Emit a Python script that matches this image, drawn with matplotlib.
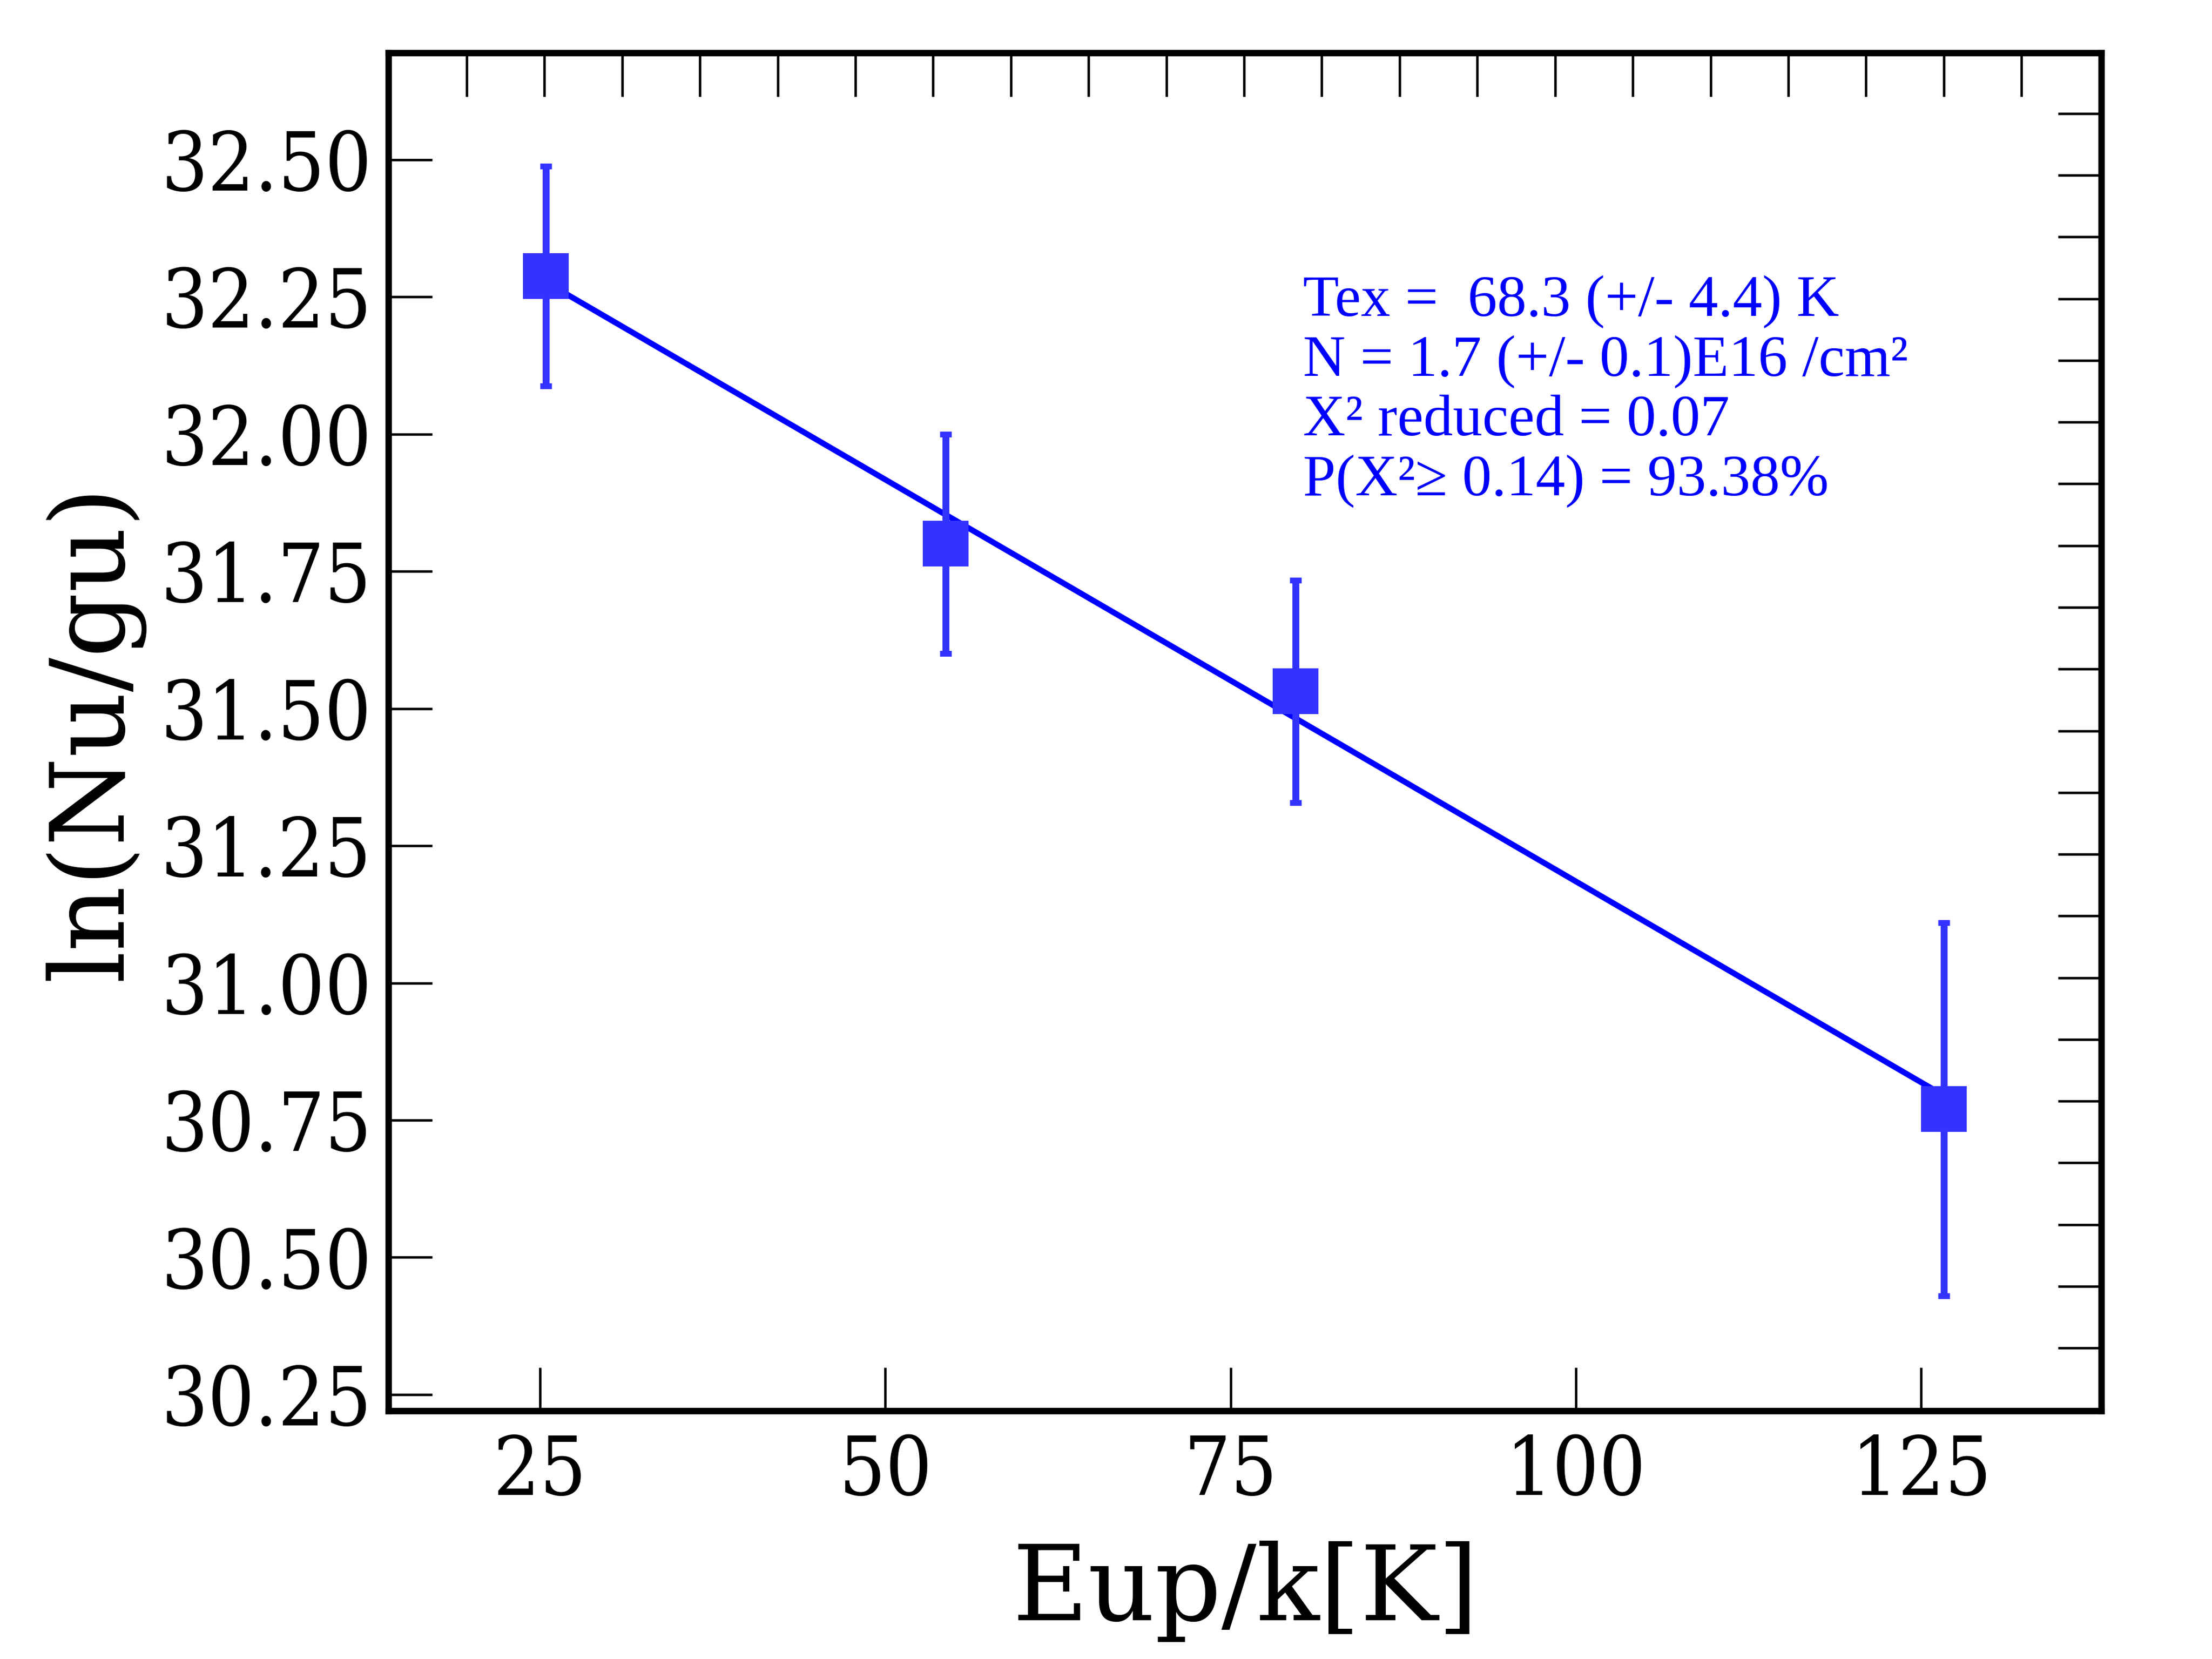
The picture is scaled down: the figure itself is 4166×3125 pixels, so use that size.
import matplotlib
matplotlib.use("Agg")
import matplotlib.pyplot as plt
from matplotlib import font_manager as fm
import numpy as np

# ---- data ----
eup = [25.41, 54.37, 79.70, 126.64]
ln_nu_gu = [32.288, 31.800, 31.531, 30.770]
err = [0.200, 0.200, 0.203, 0.340]
fit_x = [25.41, 126.64]
fit_y = [32.277, 30.795]
xticks = [25, 50, 75, 100, 125]
yticks = [30.25, 30.50, 30.75, 31.00, 31.25, 31.50, 31.75, 32.00, 32.25, 32.50]
ytick_labels = ["30.25", "30.50", "30.75", "31.00", "31.25", "31.50", "31.75", "32.00", "32.25", "32.50"]
top_ticks = [19.69 + 5.629 * k for k in range(21)]
right_ticks = [32.584 - 0.11246 * k for k in range(21)]
info_lines = ["Tex =  68.3 (+/- 4.4) K",
              "N = 1.7 (+/- 0.1)E16 /cm\u00b2",
              "X\u00b2 reduced = 0.07",
              "P(X\u00b2\u2265 0.14) = 93.38%"]

W, H, DPI = 4166, 3125, 300
fig = plt.figure(figsize=(W / DPI, H / DPI), dpi=DPI)
ax = fig.add_axes([732 / W, 1 - 2658 / H, (3958 - 732) / W, (2658 - 100) / H])

cond = fm.FontProperties(family="DejaVu Serif", stretch="condensed", size=37)

ax.plot(fit_x, fit_y, color="#0000ff", lw=2.6, zorder=2, solid_capstyle="butt")
ax.errorbar(eup, ln_nu_gu, yerr=err, fmt="s", color="#3333ff", ms=19.7,
            mec="#3333ff", ecolor="#3333ff", elinewidth=3.1, capsize=2.65,
            capthick=2.6, zorder=3)

ax.set_xlim(14.04, 138.07)
ax.set_ylim(30.22, 32.694)

ax.set_xticks(xticks)
ax.set_yticks(yticks)
ax.set_yticklabels(ytick_labels)
ax.tick_params(axis="both", direction="in", length=19.7, width=1.1,
               labelsize=37, top=False, right=False)
ax.tick_params(axis="x", pad=10)
ax.tick_params(axis="y", pad=7.7)
for lab in ax.get_xticklabels() + ax.get_yticklabels():
    lab.set_fontproperties(cond)

# secondary ticks on top and right
axt = ax.twiny()
axt.set_xlim(ax.get_xlim())
axt.set_xticks(top_ticks)
axt.tick_params(axis="x", direction="in", length=19.7, width=1.1, labeltop=False)
axr = ax.twinx()
axr.set_ylim(ax.get_ylim())
axr.set_yticks(right_ticks)
axr.tick_params(axis="y", direction="in", length=19.7, width=1.1, labelright=False)

for a in (ax, axt, axr):
    for s in a.spines.values():
        s.set_linewidth(2.9)

ax.set_xlabel("Eup/k[K]", fontfamily="DejaVu Serif", fontsize=47, labelpad=13)
ax.set_ylabel("ln(Nu/gu)", fontfamily="DejaVu Serif", fontsize=46, labelpad=7.5)

x0 = 0.5338
ys = [0.8063, 0.7621, 0.7185, 0.6743]
for t, y in zip(info_lines, ys):
    ax.text(x0, y, t, transform=ax.transAxes, color="#0000ff", fontsize=26.6,
            family=["Liberation Serif", "DejaVu Serif"], va="baseline", ha="left")

fig.savefig("out.png", dpi=DPI)
